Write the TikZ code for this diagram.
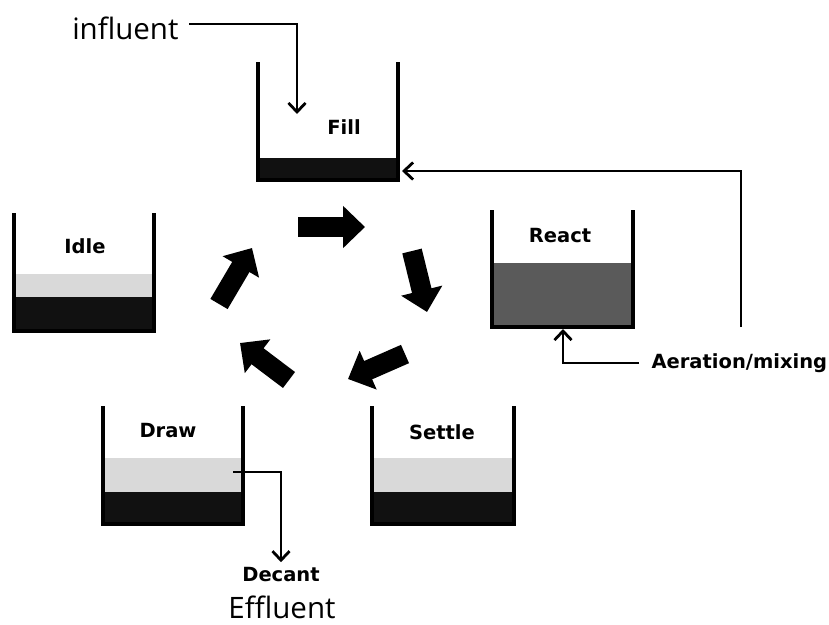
\documentclass[tikz,border=0pt]{standalone}
\usepackage{fontspec}
\setmainfont{Open Sans}
\newfontfamily\labelfont{DejaVu Sans}
\usetikzlibrary{arrows.meta}
\definecolor{sludge}{RGB}{17, 17, 17}
\definecolor{clearwater}{RGB}{217, 217, 217}
\definecolor{mixedliquor}{RGB}{90, 90, 90}
\tikzset{
    wall/.style={line width=3.2pt},
    pipe/.style={line width=2.8pt, -{Straight Barb[length=9pt, width=17pt]}},
    cyclearrow/.style={line width=20pt, -{Triangle[length=22pt, width=41pt]}},
    tanklabel/.style={font=\labelfont\bfseries\fontsize{19.5}{22}\selectfont},
    streamlabel/.style={font=\fontsize{29.5}{33}\selectfont},
}

\begin{document}
\begin{tikzpicture}[x=1pt, y=-1pt]
    \useasboundingbox (0, 0) rectangle (829, 624);
    % fill tank
    \fill[sludge] (258, 158) rectangle (398, 180);
    \draw[wall] (258, 62) -- (258, 180) -- (398, 180) -- (398, 62);
    \node[tanklabel] (fill) at (344, 127) {Fill};
    % react tank
    \fill[mixedliquor] (492, 263) rectangle (633, 327);
    \draw[wall] (492, 210) -- (492, 327) -- (633, 327) -- (633, 210);
    \node[tanklabel] (react) at (560, 236) {React};
    % settle tank
    \fill[clearwater] (372, 458) rectangle (514, 492);
    \fill[sludge] (372, 492) rectangle (514, 524);
    \draw[wall] (372, 406) -- (372, 524) -- (514, 524) -- (514, 406);
    \node[tanklabel] (settle) at (442, 432) {Settle};
    % draw tank
    \fill[clearwater] (103, 458) rectangle (243, 492);
    \fill[sludge] (103, 492) rectangle (243, 524);
    \draw[wall] (103, 406) -- (103, 524) -- (243, 524) -- (243, 406);
    \node[tanklabel] (draw) at (168, 431) {Draw};
    % idle tank
    \fill[clearwater] (14, 274) rectangle (154, 297);
    \fill[sludge] (14, 297) rectangle (154, 331);
    \draw[wall] (14, 213) -- (14, 331) -- (154, 331) -- (154, 213);
    \node[tanklabel] (idle) at (85, 246) {Idle};

    % cycle arrows
    \foreach \s/\e in {{298, 227}/{365, 227}, {412, 251}/{427, 312},
        {405, 354}/{348, 379}, {289, 380}/{240, 343}, {219, 304}/{252, 248}}
        \draw[cyclearrow] (\s) -- (\e);

    % influent
    \node[streamlabel, anchor=east] (influent) at (182, 28) {influent};
    \coordinate (fillin) at (297, 114);
    \draw[pipe] ([xshift=7pt, yshift=4pt]influent.east) -| (fillin);
    % recycle to fill
    \coordinate (recyclefoot) at (741, 327);
    \coordinate (fillside) at (402, 171);
    \draw[pipe] (recyclefoot) |- (fillside);
    % aeration
    \node[tanklabel, anchor=west] (aeration) at (648, 363) {Aeration/mixing};
    \coordinate (reactbase) at (563, 329);
    \draw[pipe] ([xshift=-9pt]aeration.west) -| (reactbase);
    % decant
    \coordinate (drawoff) at (233, 472);
    \node[tanklabel] (decant) at (281, 575) {Decant};
    \draw[pipe] (drawoff) -| ([yshift=2pt]decant.north);
    \node[streamlabel] (effluent) at (282, 607) {Effluent};
\end{tikzpicture}
\end{document}
